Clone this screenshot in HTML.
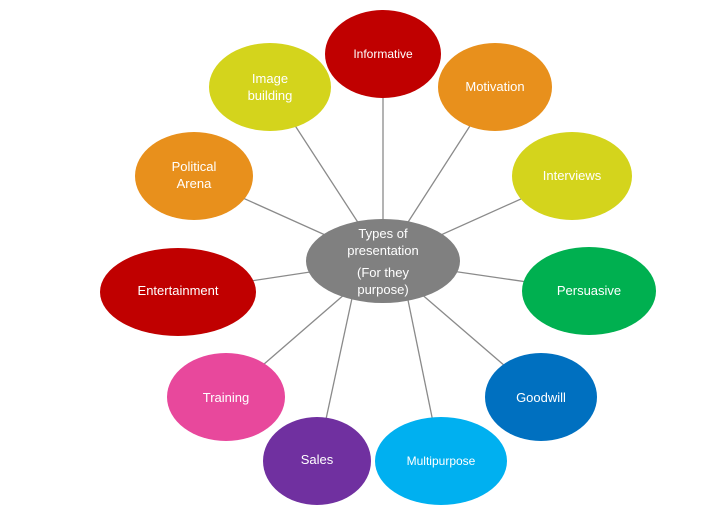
<!DOCTYPE html>
<html><head><meta charset="utf-8"><style>
html,body{margin:0;padding:0;background:#fff;}
svg{display:block;}
text{font-family:"Liberation Sans",sans-serif;font-size:13px;fill:#fff;text-anchor:middle;}
</style></head><body>
<svg width="710" height="508" viewBox="0 0 710 508">
<g stroke="#8a8a8a" stroke-width="1.3">
<line x1="383" y1="261" x2="383" y2="54"/>
<line x1="383" y1="261" x2="270" y2="87"/>
<line x1="383" y1="261" x2="495" y2="87"/>
<line x1="383" y1="261" x2="194" y2="176"/>
<line x1="383" y1="261" x2="572" y2="176"/>
<line x1="383" y1="261" x2="178" y2="292"/>
<line x1="383" y1="261" x2="589" y2="291"/>
<line x1="383" y1="261" x2="226" y2="397"/>
<line x1="383" y1="261" x2="541" y2="397"/>
<line x1="360" y1="261" x2="317" y2="461"/>
<line x1="400" y1="261" x2="441" y2="461"/>
</g>
<ellipse cx="383" cy="54" rx="58" ry="44" fill="#c00000"/>
<ellipse cx="270" cy="87" rx="61" ry="44" fill="#d4d41c"/>
<ellipse cx="495" cy="87" rx="57" ry="44" fill="#e8901c"/>
<ellipse cx="194" cy="176" rx="59" ry="44" fill="#e8901c"/>
<ellipse cx="572" cy="176" rx="60" ry="44" fill="#d4d41c"/>
<ellipse cx="383" cy="261" rx="77" ry="42" fill="#808080"/>
<ellipse cx="178" cy="292" rx="78" ry="44" fill="#c00000"/>
<ellipse cx="589" cy="291" rx="67" ry="44" fill="#00b050"/>
<ellipse cx="226" cy="397" rx="59" ry="44" fill="#e8489c"/>
<ellipse cx="541" cy="397" rx="56" ry="44" fill="#0070c0"/>
<ellipse cx="317" cy="461" rx="54" ry="44" fill="#7030a0"/>
<ellipse cx="441" cy="461" rx="66" ry="44" fill="#00b0f0"/>
<text x="383" y="58" style="font-size:12px">Informative</text>
<text x="270" y="83">Image</text><text x="270" y="100">building</text>
<text x="495" y="91">Motivation</text>
<text x="194" y="171">Political</text><text x="194" y="188">Arena</text>
<text x="572" y="180">Interviews</text>
<text x="383" y="238">Types of</text><text x="383" y="255">presentation</text>
<text x="383" y="277">(For they</text><text x="383" y="294">purpose)</text>
<text x="178" y="295">Entertainment</text>
<text x="589" y="295">Persuasive</text>
<text x="226" y="402">Training</text>
<text x="541" y="402">Goodwill</text>
<text x="317" y="464">Sales</text>
<text x="441" y="465" style="font-size:12px">Multipurpose</text>
</svg>
</body></html>
